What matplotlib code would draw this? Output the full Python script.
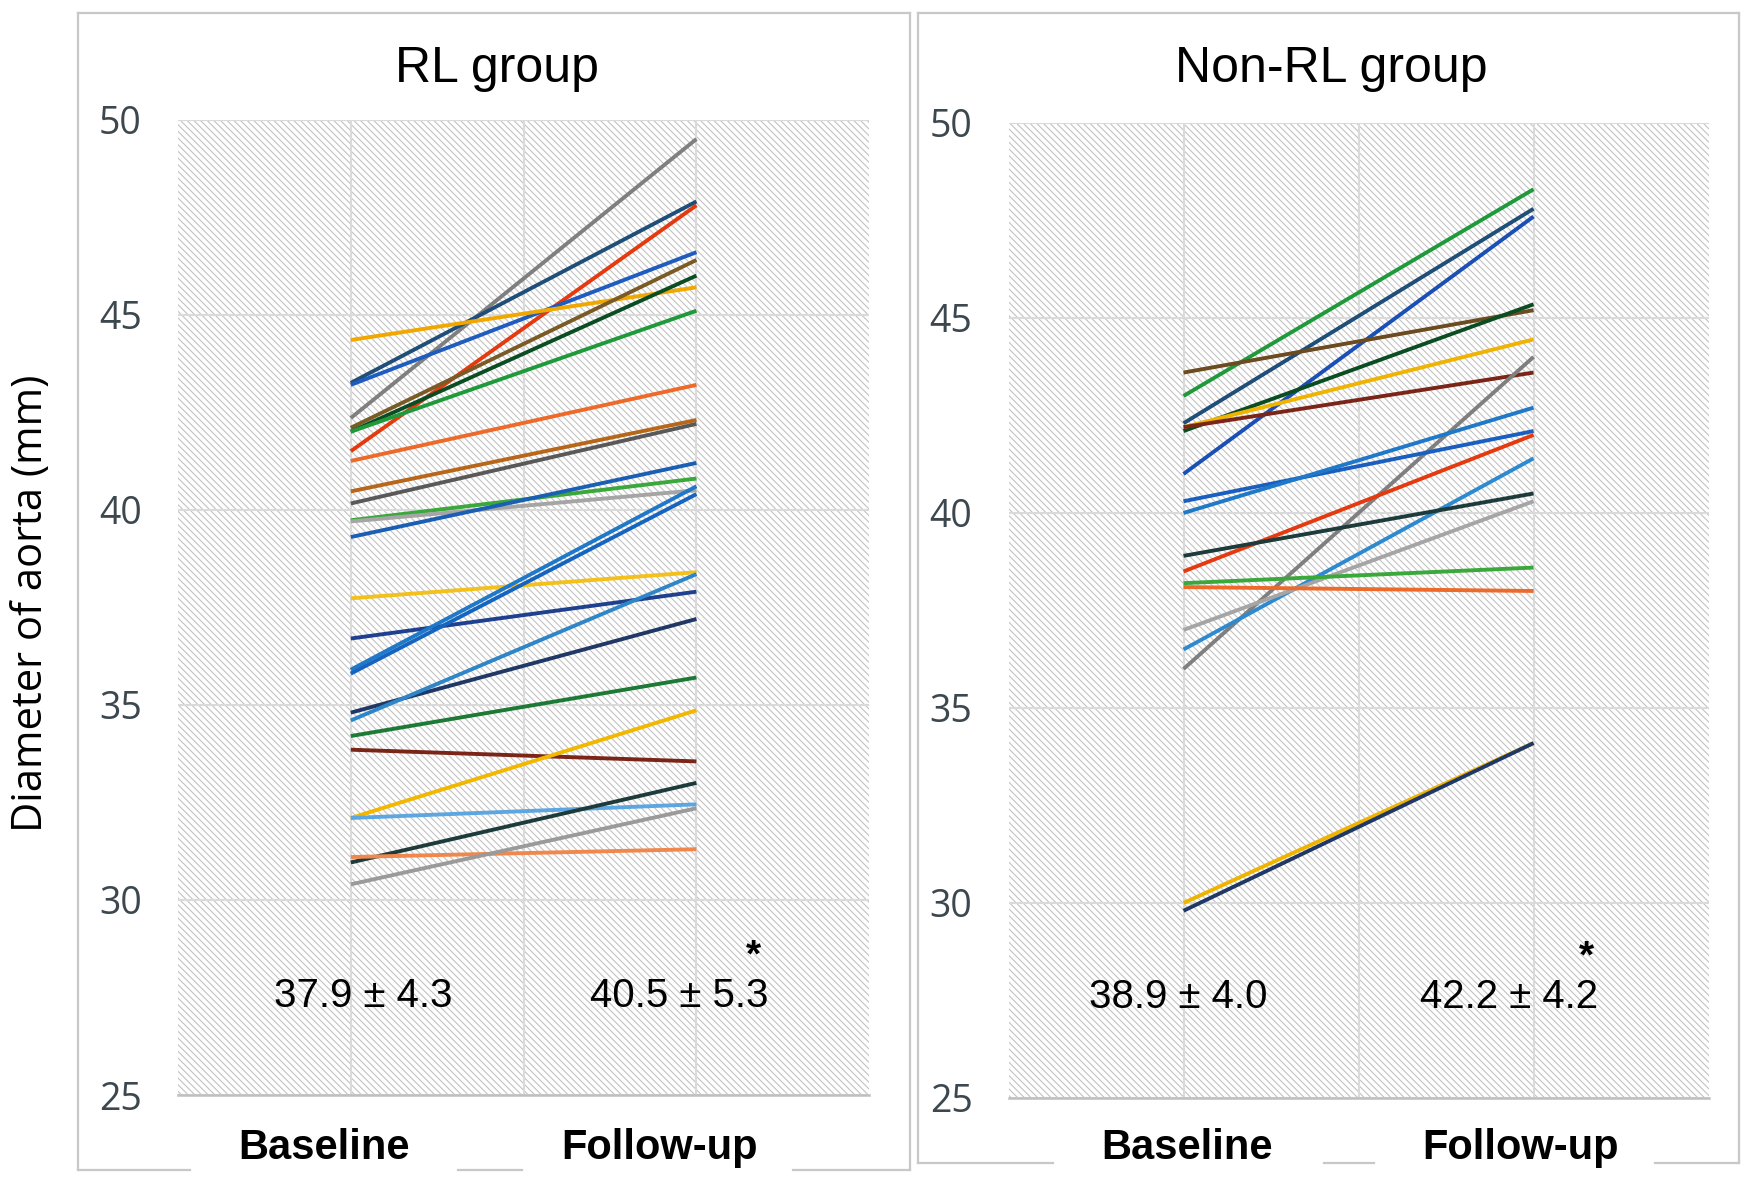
import matplotlib
matplotlib.use("Agg")
import matplotlib.pyplot as plt
from matplotlib.lines import Line2D
from matplotlib.font_manager import fontManager

# timepoints and y scale
x_pos = [1, 3]
y_ticks = [25, 30, 35, 40, 45, 50]

# RL group: baseline / follow-up diameter (mm), one line per patient
rl_base = [42.35, 43.25, 41.5, 43.2, 44.35, 42.1, 42.0, 42.0, 41.25, 40.47, 40.16,
           39.73, 39.7, 39.3, 37.73, 36.7, 35.9, 35.8, 34.8, 34.6, 34.2, 33.85,
           32.1, 32.1, 30.96, 31.1, 30.4]
rl_follow = [49.5, 47.9, 47.8, 46.6, 45.7, 46.4, 46.0, 45.1, 43.2, 42.3, 42.2,
             40.8, 40.5, 41.2, 38.4, 37.9, 40.6, 40.4, 37.2, 38.35, 35.7, 33.55,
             34.86, 32.45, 33.0, 31.3, 32.35]
rl_colors = ['#7f7f7f', '#1f4e79', '#e5390f', '#1f5cbf', '#f0a800', '#7a5a25', '#0b4d22',
             '#1f9a3a', '#ed6a2a', '#b8661a', '#595959', '#3aa83a', '#a5a5a5', '#1a5fb4',
             '#f3c01c', '#1f3f8f', '#1f78c8', '#1565c0', '#1f3866', '#2e86c8', '#1c7a35',
             '#7a2518', '#f2b800', '#5ea6e0', '#1e3b3b', '#f0884e', '#9a9a9a']

# Non-RL group
non_base = [43.0, 42.3, 41.0, 43.6, 42.1, 42.2, 42.2, 36.0, 40.3, 40.0, 38.5, 36.5,
            38.9, 37.0, 38.2, 38.1, 30.0, 29.8]
non_follow = [48.3, 47.8, 47.6, 45.2, 45.35, 44.45, 43.6, 44.0, 42.1, 42.7, 42.0, 41.4,
              40.5, 40.3, 38.6, 38.0, 34.1, 34.1]
non_colors = ['#1f9a3a', '#1f4e79', '#1a4fb5', '#6b4b1f', '#0b4d22', '#f0b400', '#7a2518',
              '#7f7f7f', '#1a5fc0', '#1f78c8', '#e5390f', '#2e8ad0', '#1e3b3b', '#a5a5a5',
              '#3aa83a', '#ed6a2a', '#f0b400', '#1f3866']

titles = ['RL group', 'Non-RL group']
stats = [('37.9 \u00b1 4.3', '40.5 \u00b1 5.3'), ('38.9 \u00b1 4.0', '42.2 \u00b1 4.2')]
xlabels = ['Baseline', 'Follow-up']

names = {f.name for f in fontManager.ttflist}
narrow = 'Liberation Sans Narrow' if 'Liberation Sans Narrow' in names else 'Liberation Sans'

plt.rcParams['hatch.linewidth'] = 0.8

fig = plt.figure(figsize=(17.5, 11.8), dpi=100)
ax1 = fig.add_axes([0.1017, 0.072, 0.395, 0.8267])
ax2 = fig.add_axes([0.5763, 0.0695, 0.40, 0.8263])

panels = [(ax1, rl_base, rl_follow, rl_colors), (ax2, non_base, non_follow, non_colors)]
for ax, base, follow, cols in panels:
    ax.set_xlim(0, 4)
    ax.set_ylim(25, 50)
    ax.patch.set_facecolor('white')
    ax.patch.set_edgecolor('#c2c2c2')
    ax.patch.set_hatch('\\\\\\\\\\')
    ax.patch.set_linewidth(0)
    ax.set_axisbelow(True)
    ax.set_yticks(y_ticks)
    ax.set_xticks([1, 2, 3])
    ax.set_xticklabels([])
    ax.grid(True, color='#dadada', lw=1.5)
    ax.tick_params(length=0, pad=26, labelsize=27, labelcolor='#3c474e')
    for lab in ax.get_yticklabels():
        lab.set_family('Open Sans')
    for s in ['top', 'left', 'right']:
        ax.spines[s].set_visible(False)
    ax.spines['bottom'].set_color('#bfbfbf')
    ax.spines['bottom'].set_linewidth(1.8)
    for b, f, c in zip(base, follow, cols):
        ax.plot(x_pos, [b, f], color=c, lw=2.8, solid_capstyle='butt')

# mean +- SD annotations
ax1.text(1.07, 27.55, stats[0][0], ha='center', va='center', fontsize=29, family=narrow)
ax1.text(2.90, 27.55, stats[0][1], ha='center', va='center', fontsize=29, family=narrow)
ax1.text(3.33, 28.3, '*', ha='center', va='baseline', fontsize=28, fontweight='bold', family=narrow)
ax2.text(0.97, 27.6, stats[1][0], ha='center', va='center', fontsize=29, family=narrow)
ax2.text(2.86, 27.6, stats[1][1], ha='center', va='center', fontsize=29, family=narrow)
ax2.text(3.30, 28.35, '*', ha='center', va='baseline', fontsize=28, fontweight='bold', family=narrow)

fig.text(0.284, 0.9415, titles[0], ha='center', va='center', fontsize=36, family=narrow)
fig.text(0.761, 0.9415, titles[1], ha='center', va='center', fontsize=36, family=narrow)

for xc, lab in zip([0.185, 0.3766], xlabels):
    fig.text(xc, 0.027, lab, ha='center', va='center', fontsize=30, fontweight='bold', family=narrow)
for xc, lab in zip([0.678, 0.869], xlabels):
    fig.text(xc, 0.027, lab, ha='center', va='center', fontsize=30, fontweight='bold', family=narrow)

fig.text(0.018, 0.489, 'Diameter of aorta (mm)', rotation=90, ha='center', va='center',
         fontsize=30, family='Open Sans')

# panel frames (bottom edge broken around the category labels)
W, H = 1750.0, 1180.0
frame_col = '#c8c8c8'
def seg(x0, y0, x1, y1):
    fig.add_artist(Line2D([x0 / W, x1 / W], [1 - y0 / H, 1 - y1 / H],
                          color=frame_col, lw=1.6, transform=fig.transFigure))

seg(78, 13, 910, 13)
seg(78, 13, 78, 1170)
seg(910, 13, 910, 1170)
for a, b in [(78, 190), (458, 522), (793, 910)]:
    seg(a, 1170, b, 1170)

seg(918, 13, 1739, 13)
seg(918, 13, 918, 1163)
seg(1739, 13, 1739, 1163)
for a, b in [(918, 1053), (1324, 1374), (1655, 1739)]:
    seg(a, 1163, b, 1163)

fig.savefig('out.png', dpi=100)
